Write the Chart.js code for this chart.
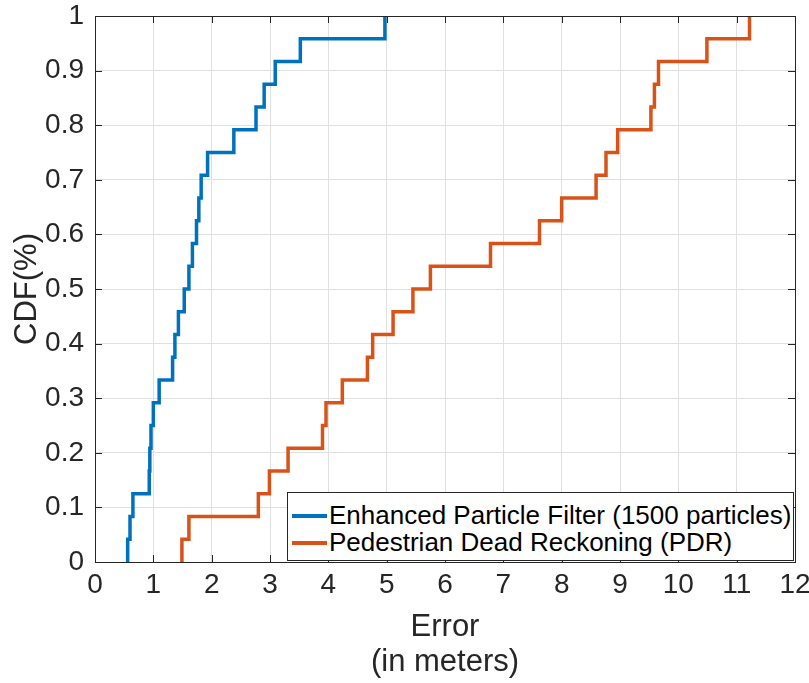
<!DOCTYPE html>
<html lang="en">
<head>
    <meta charset="UTF-8">
    <title>CDF of localization error</title>
    <script src="https://cdn.jsdelivr.net/npm/chart.js"></script>
    <style>
        body {
            margin: 0;
            background-color: #fff;
            font-family: 'Liberation Sans', Arial, sans-serif;
        }
        #wrap {
            position: relative;
            width: 809px;
            height: 683px;
        }
        #legend {
            position: absolute;
            left: 287px;
            top: 492px;
            width: 505px;
            height: 67px;
            border: 1px solid #262626;
            background: #fff;
            color: #000;
            font-size: 26px;
        }
        .row {
            position: absolute;
            left: 0;
            height: 27px;
            line-height: 27px;
            white-space: nowrap;
        }
        .row span.swatch {
            position: absolute;
            left: 4px;
            top: 12px;
            width: 35px;
            height: 3.5px;
        }
        .row span.txt {
            position: absolute;
            left: 41px;
        }
    </style>
</head>
<body>
    <div id="wrap">
        <canvas id="cdfChart" width="809" height="683"></canvas>
        <div id="legend">
            <div class="row" style="top:9px"><span class="swatch" style="background:#0072BD"></span><span class="txt">Enhanced Particle Filter (1500 particles)</span></div>
            <div class="row" style="top:36px"><span class="swatch" style="background:#D95319"></span><span class="txt">Pedestrian Dead Reckoning (PDR)</span></div>
        </div>
    </div>

    <script>
        const pfErrors = [0.56, 0.60, 0.65, 0.93, 0.94, 0.96, 1.00, 1.10, 1.33, 1.37, 1.43, 1.53,
                          1.61, 1.67, 1.74, 1.78, 1.82, 1.93, 2.38, 2.76, 2.90, 3.09, 3.52, 4.97];
        const pdrErrors = [1.49, 1.61, 2.80, 2.99, 3.31, 3.90, 3.96, 4.24, 4.67, 4.76, 5.11, 5.45,
                           5.75, 6.78, 7.62, 8.00, 8.59, 8.76, 8.96, 9.53, 9.59, 9.66, 10.49, 11.22];

        const seriesNames = ['Enhanced Particle Filter (1500 particles)', 'Pedestrian Dead Reckoning (PDR)'];
        const seriesColors = ['#0072BD', '#D95319'];

        // empirical cdf points: start at 0, then k/n at each sorted error
        function cdfPoints(errors) {
            const n = errors.length;
            const pts = [{ x: errors[0], y: 0 }];
            errors.forEach((e, i) => pts.push({ x: e, y: (i + 1) / n }));
            return pts;
        }

        const FONT = "'Liberation Sans', Arial, sans-serif";
        const AXIS_COLOR = '#262626';

        // box around the axes with inward ticks on all four sides
        const boxPlugin = {
            id: 'box',
            afterDatasetsDraw(chart) {
                const { ctx, chartArea: a, scales } = chart;
                const tl = 7;
                ctx.save();
                ctx.strokeStyle = AXIS_COLOR;
                ctx.lineWidth = 1;
                ctx.beginPath();
                scales.x.ticks.forEach(t => {
                    const px = Math.round(scales.x.getPixelForValue(t.value)) + 0.5;
                    ctx.moveTo(px, a.bottom); ctx.lineTo(px, a.bottom - tl);
                    ctx.moveTo(px, a.top); ctx.lineTo(px, a.top + tl);
                });
                scales.y.ticks.forEach(t => {
                    const py = Math.round(scales.y.getPixelForValue(t.value)) + 0.5;
                    ctx.moveTo(a.left, py); ctx.lineTo(a.left + tl, py);
                    ctx.moveTo(a.right, py); ctx.lineTo(a.right - tl, py);
                });
                ctx.stroke();
                ctx.strokeRect(Math.round(a.left) + 0.5, Math.round(a.top) + 0.5,
                               Math.round(a.right - a.left), Math.round(a.bottom - a.top));
                ctx.restore();
            }
        };

        const ctx = document.getElementById('cdfChart').getContext('2d');
        const cdfChart = new Chart(ctx, {
            type: 'line',
            data: {
                datasets: [pfErrors, pdrErrors].map((errs, i) => ({
                    label: seriesNames[i],
                    data: cdfPoints(errs),
                    borderColor: seriesColors[i],
                    backgroundColor: seriesColors[i],
                    borderWidth: 3.5,
                    stepped: true,
                    pointRadius: 0,
                    fill: false,
                    clip: 3
                }))
            },
            options: {
                responsive: false,
                animation: false,
                layout: { padding: { top: 16, right: 14, left: 0, bottom: 0 } },
                plugins: {
                    legend: { display: false },
                    tooltip: { enabled: false }
                },
                scales: {
                    x: {
                        type: 'linear',
                        min: 0,
                        max: 12,
                        afterFit: s => { s.height = 121; s.paddingLeft = 0; s.paddingRight = 0; },
                        grid: { color: '#e0e0e0', drawTicks: false },
                        border: { display: false },
                        ticks: {
                            stepSize: 1,
                            autoSkip: false,
                            maxRotation: 0,
                            padding: 6,
                            color: AXIS_COLOR,
                            font: { family: FONT, size: 28 }
                        },
                        title: {
                            display: true,
                            text: ['Error', '(in meters)'],
                            color: AXIS_COLOR,
                            font: { family: FONT, size: 31, lineHeight: 1.13 },
                            padding: { top: 0, bottom: 3 }
                        }
                    },
                    y: {
                        min: 0,
                        max: 1,
                        afterFit: s => { s.width = 95; s.paddingTop = 0; s.paddingBottom = 0; },
                        grid: { color: '#e0e0e0', drawTicks: false },
                        border: { display: false },
                        ticks: {
                            stepSize: 0.1,
                            padding: 11,
                            color: AXIS_COLOR,
                            font: { family: FONT, size: 28 },
                            callback: v => String(Math.round(v * 10) / 10)
                        },
                        title: {
                            display: true,
                            text: 'CDF(%)',
                            color: AXIS_COLOR,
                            font: { family: FONT, size: 31, lineHeight: 1.13 },
                            padding: { top: 10, bottom: 0 }
                        }
                    }
                }
            },
            plugins: [boxPlugin]
        });
    </script>
</body>
</html>
